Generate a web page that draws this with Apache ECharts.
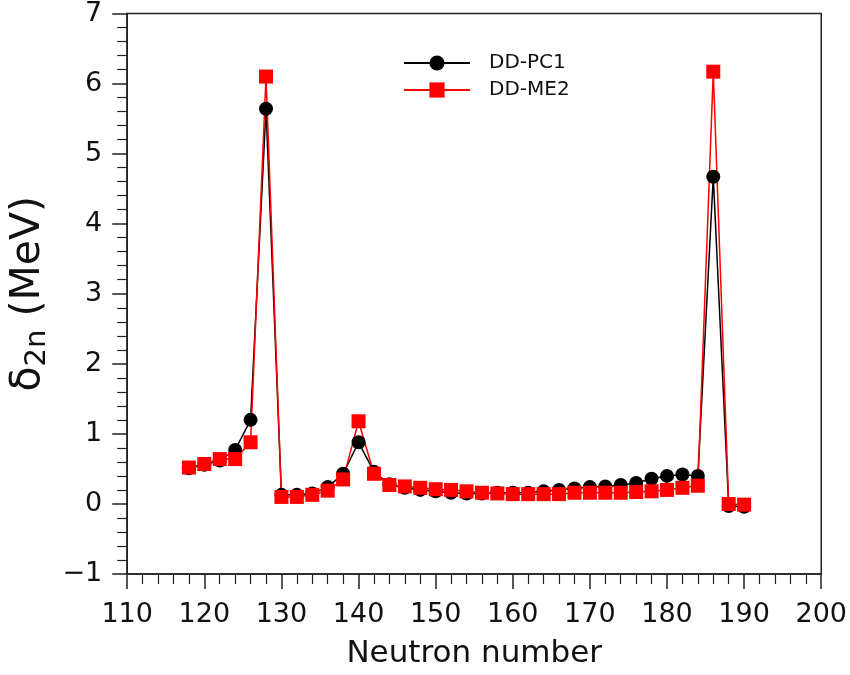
<!DOCTYPE html>
<html>
<head>
<meta charset="utf-8">
<script src="https://cdn.jsdelivr.net/npm/echarts@6/dist/echarts.min.js"></script>
<style>html,body{margin:0;padding:0;background:#fff}#c{width:850px;height:675px}</style>
</head>
<body>
<div id="c"></div>
<script>
var neutrons = [118,120,122,124,126,128,130,132,134,136,138,140,142,144,146,148,150,152,154,156,158,160,162,164,166,168,170,172,174,176,178,180,182,184,186,188,190];
var ddpc1 = [0.51,0.56,0.62,0.77,1.20,5.64,0.13,0.13,0.15,0.24,0.43,0.88,0.46,0.28,0.23,0.20,0.18,0.16,0.15,0.15,0.16,0.16,0.16,0.18,0.20,0.22,0.24,0.25,0.27,0.30,0.36,0.40,0.42,0.40,4.67,-0.03,-0.04];
var ddme2 = [0.52,0.57,0.64,0.64,0.88,6.10,0.10,0.10,0.13,0.19,0.35,1.18,0.43,0.27,0.25,0.23,0.21,0.20,0.18,0.16,0.15,0.14,0.14,0.14,0.14,0.16,0.16,0.16,0.16,0.17,0.18,0.20,0.23,0.26,6.17,0.00,-0.01];
var seriesNames = ['DD-PC1','DD-ME2'];
var xTicks = {min:110, max:200, interval:10};
var yTicks = {min:-1, max:7, interval:1};

var chart = echarts.init(document.getElementById('c'), null, {renderer:'canvas'});
var FONT = 'DejaVu Sans';
function pairs(xs, ys){ return xs.map(function(x,i){ return [x, ys[i]]; }); }
chart.setOption({
  animation:false,
  backgroundColor:'#fff',
  textStyle:{fontFamily:FONT},
  grid:{left:126, right:28, top:13, bottom:101, show:true, borderColor:'#222', borderWidth:1.5, backgroundColor:'transparent'},
  legend:{
    orient:'vertical', left:398, top:48, itemWidth:66, itemHeight:19, itemGap:7,
    textStyle:{fontFamily:FONT, fontSize:20, color:'#111', padding:[0,0,0,14]},
    data:seriesNames
  },
  xAxis:{
    type:'value', min:xTicks.min, max:xTicks.max, interval:xTicks.interval,
    name:'Neutron number', nameLocation:'middle', nameGap:64,
    nameTextStyle:{fontFamily:FONT, fontSize:31, color:'#111'},
    axisLine:{show:true, onZero:false, lineStyle:{color:'#222', width:1.5}},
    axisTick:{show:true, inside:false, length:15, lineStyle:{color:'#222', width:1.5}},
    minorTick:{show:true, splitNumber:5, length:10, lineStyle:{color:'#222', width:1.2}},
    axisLabel:{fontFamily:FONT, fontSize:27, color:'#111', margin:27},
    splitLine:{show:false}
  },
  yAxis:{
    type:'value', min:yTicks.min, max:yTicks.max, interval:yTicks.interval,
    name:'{a|δ}{b|2n}{a| (MeV)}', nameLocation:'middle', nameGap:70, nameRotate:90,
    nameTextStyle:{rich:{
      a:{fontFamily:FONT, fontSize:41, color:'#111'},
      b:{fontFamily:FONT, fontSize:29, color:'#111', verticalAlign:'bottom', padding:[17,0,0,0]}
    }},
    axisLine:{show:true, onZero:false, lineStyle:{color:'#222', width:1.5}},
    axisTick:{show:true, inside:false, length:15, lineStyle:{color:'#222', width:1.5}},
    minorTick:{show:true, splitNumber:5, length:10, lineStyle:{color:'#222', width:1.2}},
    axisLabel:{fontFamily:FONT, fontSize:27, color:'#111', margin:25,
      formatter:function(v){ return v < 0 ? '\u2212' + Math.abs(v) : String(v); }},
    splitLine:{show:false}
  },
  series:[
    {name:seriesNames[0], type:'line', data:pairs(neutrons, ddpc1), symbol:'circle', symbolSize:14,
     itemStyle:{color:'#000'}, lineStyle:{color:'#000', width:1.5}},
    {name:seriesNames[1], type:'line', data:pairs(neutrons, ddme2), symbol:'rect', symbolSize:14,
     itemStyle:{color:'#ff0000'}, lineStyle:{color:'#ff0000', width:1.5}}
  ]
});
</script>
</body>
</html>
